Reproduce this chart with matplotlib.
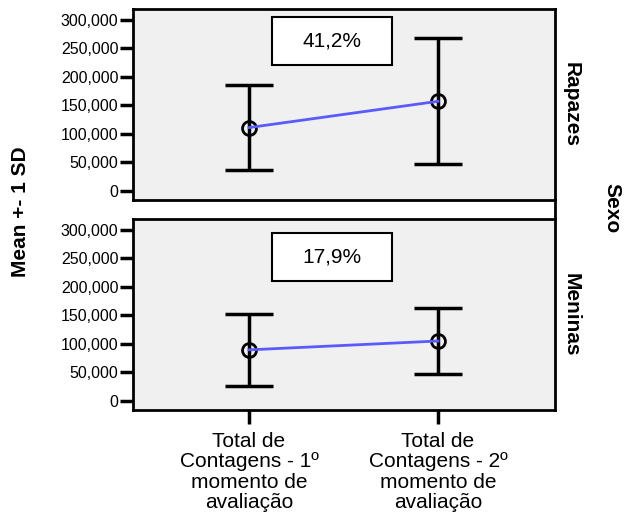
import matplotlib
matplotlib.use("Agg")
import matplotlib.pyplot as plt
from matplotlib.lines import Line2D
from matplotlib.patches import Rectangle

plt.rcParams['font.family'] = ['Liberation Sans', 'DejaVu Sans']

# Data
categories = ["Total de\nContagens - 1º\nmomento de\navaliação",
              "Total de\nContagens - 2º\nmomento de\navaliação"]
panels = ["Rapazes", "Meninas"]
means = {"Rapazes": [111000, 157000], "Meninas": [89500, 105000]}
sds = {"Rapazes": [74500, 110000], "Meninas": [62500, 57000]}
change_labels = {"Rapazes": "41,2%", "Meninas": "17,9%"}
yticks = [0, 50000, 100000, 150000, 200000, 250000, 300000]
ytick_labels = ["0", "50,000", "100,000", "150,000", "200,000", "250,000", "300,000"]

W, H = 624, 529
fig = plt.figure(figsize=(W / 100, H / 100), dpi=100)

left, width = 133 / W, 422 / W
panel_h = 191 / H
bottoms = [1 - 200 / H, 1 - 410 / H]
# label box position (axes fraction: x0, y0, w, h)
box_pos = {"Rapazes": (0.329, 0.707, 0.285, 0.251), "Meninas": (0.329, 0.675, 0.285, 0.252)}

x = [0, 1]
for i, name in enumerate(panels):
    ax = fig.add_axes([left, bottoms[i], width, panel_h])
    ax.set_facecolor("#f0f0f0")
    m = means[name]
    s = sds[name]
    ax.plot(x, m, linestyle="none", marker="o", markersize=10, markerfacecolor="none",
            markeredgecolor="black", markeredgewidth=2, zorder=3)
    ax.errorbar(x, m, yerr=s, fmt="none", ecolor="black", elinewidth=2.5,
                capsize=17, capthick=2.5, zorder=4)
    ax.plot(x, m, color="#5a5aff", linewidth=2, zorder=5)
    ax.set_xlim(-0.614, 1.619)
    ax.set_ylim(-15750, 318500)
    ax.set_yticks(yticks)
    ax.set_yticklabels(ytick_labels)
    ax.tick_params(axis="y", direction="out", length=9.5, width=2.5, labelsize=11.5, pad=1)
    for sp in ax.spines.values():
        sp.set_linewidth(2)

    bx, by, bw, bh = box_pos[name]
    ax.add_patch(Rectangle((bx, by), bw, bh, transform=ax.transAxes, facecolor="white",
                           edgecolor="black", linewidth=1.5, zorder=6))
    ax.text(bx + bw / 2, by + bh / 2, change_labels[name], transform=ax.transAxes,
            fontsize=15, ha="center", va="center", zorder=7)
    ax.text(1.038, 0.5, name, transform=ax.transAxes, rotation=-90, fontsize=15,
            fontweight="bold", ha="center", va="center")
    if i == 0:
        ax.set_xticks([])
    else:
        ax.set_xticks(x)
        ax.set_xticklabels(categories, fontsize=15, linespacing=1.08)
        ax.tick_params(axis="x", direction="out", length=10, width=2.5, pad=6)

# right edge bridging the two panels
fig.add_artist(Line2D([555 / W, 555 / W], [1 - 200 / H, 1 - 219 / H], color="black", linewidth=2))

fig.text(21 / W, 1 - 212 / H, "Mean +- 1 SD", rotation=90, fontsize=15, fontweight="bold",
         ha="center", va="center")
fig.text(612 / W, 1 - 208 / H, "Sexo", rotation=-90, fontsize=15, fontweight="bold",
         ha="center", va="center")

fig.savefig("out.png", dpi=100)
